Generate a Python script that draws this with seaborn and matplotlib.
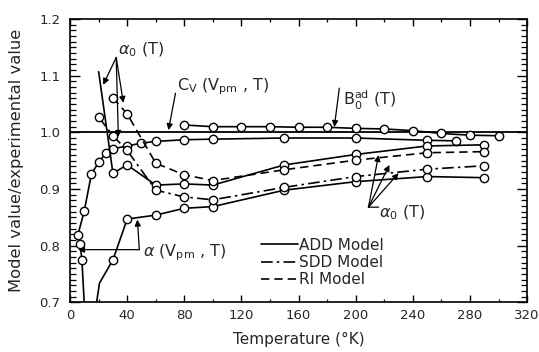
import matplotlib
matplotlib.use('Agg')
import matplotlib.pyplot as plt
from matplotlib.lines import Line2D
from matplotlib.ticker import MultipleLocator
import seaborn as sns
import pandas as pd

# B0ad(T) curve
temp_b0ad = [80, 100, 120, 140, 160, 180, 200, 220, 240, 260, 280, 300]
ratio_b0ad = [1.013, 1.010, 1.010, 1.010, 1.009, 1.009, 1.007, 1.006, 1.003, 0.998, 0.995, 0.994]

# Cv(Vpm, T) curve (plotted in drawing order, low-T tail included)
temp_cv = [10.3, 8.3, 7, 5.5, 10, 15, 20, 25, 30, 40, 50, 60, 80, 100, 150, 200, 250, 270]
ratio_cv = [0.68, 0.775, 0.803, 0.819, 0.862, 0.927, 0.947, 0.963, 0.971, 0.976, 0.981,
            0.984, 0.987, 0.988, 0.990, 0.990, 0.986, 0.985]

# alpha(Vpm, T) curve
temp_alpha = [18, 20.6, 30, 40, 60, 80, 100, 150, 200, 250, 290]
ratio_alpha = [0.69, 0.734, 0.775, 0.847, 0.854, 0.866, 0.869, 0.898, 0.913, 0.922, 0.920]

# alpha0(T) for the three models
temp_add = [20, 30, 40, 60, 80, 100, 150, 200, 250, 290]
ratio_add = [1.107, 0.928, 0.9425, 0.907, 0.909, 0.907, 0.9425, 0.961, 0.976, 0.978]

temp_sdd = [20, 30, 40, 60, 80, 100, 150, 200, 250, 290]
ratio_sdd = [1.027, 0.994, 0.968, 0.898, 0.886, 0.881, 0.903, 0.922, 0.935, 0.941]

temp_ri = [30, 40, 60, 80, 100, 150, 200, 250, 290]
ratio_ri = [1.061, 1.0325, 0.9455, 0.925, 0.915, 0.934, 0.951, 0.964, 0.966]

x_ticks = [0, 40, 80, 120, 160, 200, 240, 280, 320]
y_ticks = [0.7, 0.8, 0.9, 1.0, 1.1, 1.2]

sns.set_style('ticks')
plt.rcParams['font.family'] = ['DejaVu Sans']
plt.rcParams['mathtext.fontset'] = 'dejavusans'

fig = plt.figure(figsize=(5.39, 3.52), dpi=100)
ax = fig.add_axes([0.130, 0.141, 0.848, 0.805])

ax.axhline(1.0, color='k', lw=1.3, zorder=1)

SDD_DASH = (0, (7, 2.5, 1.5, 2.5))
RI_DASH = (0, (5, 3))

curves = [
    (temp_b0ad, ratio_b0ad, '-', list(range(len(temp_b0ad)))),
    (temp_cv, ratio_cv, '-', list(range(1, len(temp_cv)))),
    (temp_alpha, ratio_alpha, '-', list(range(2, len(temp_alpha)))),
    (temp_add, ratio_add, '-', list(range(1, len(temp_add)))),
    (temp_sdd, ratio_sdd, SDD_DASH, list(range(len(temp_sdd)))),
    (temp_ri, ratio_ri, RI_DASH, list(range(len(temp_ri)))),
]

for t, r, ls, mk in curves:
    df = pd.DataFrame({'T': t, 'ratio': r})
    sns.lineplot(data=df, x='T', y='ratio', ax=ax, sort=False, estimator=None,
                 color='k', lw=1.2, linestyle=ls, marker='o', markersize=6,
                 markerfacecolor='white', markeredgecolor='k', markeredgewidth=1.0,
                 markevery=mk, zorder=3)

ax.set_xlim(0, 320)
ax.set_ylim(0.7, 1.2)
ax.set_xticks(x_ticks)
ax.set_yticks(y_ticks)
ax.set_yticklabels([f'{v:.1f}' for v in y_ticks])
ax.xaxis.set_minor_locator(MultipleLocator(20))
ax.yaxis.set_minor_locator(MultipleLocator(0.01))
ax.tick_params(which='both', direction='in', top=True, right=True, labelsize=9.5, color='k')
ax.tick_params(axis='y', which='major', length=7, width=1, pad=7)
ax.tick_params(axis='y', which='minor', length=4, width=0.9)
ax.tick_params(axis='x', which='major', length=5, width=1, pad=5)
ax.tick_params(axis='x', which='minor', length=2.5, width=0.9)
for s in ax.spines.values():
    s.set_linewidth(1.2)
    s.set_color('k')

ax.set_xlabel('Temperature (°K)', fontsize=11)
ax.set_ylabel('Model value/experimental value', fontsize=11.8)
ax.xaxis.set_label_coords(0.5, -0.105)
ax.yaxis.set_label_coords(-0.10, 0.5)

arrow = dict(arrowstyle='-|>', color='k', lw=0.9, mutation_scale=9, shrinkA=0, shrinkB=0)
plain = dict(arrowstyle='-', color='k', lw=0.9, shrinkA=0, shrinkB=0)
afs = 11.5

# alpha0(T), upper left
ax.text(33.8, 1.145, r'$\alpha_0$ (T)', fontsize=afs, ha='left', va='center')
for tip in [(23.2, 1.084), (33.8, 0.992), (37.3, 1.052)]:
    ax.annotate('', xy=tip, xytext=(32.3, 1.132), arrowprops=arrow)

# Cv(Vpm, T)
ax.text(75.2, 1.08, r'C$_\mathrm{V}$ (V$_\mathrm{pm}$ , T)', fontsize=afs, ha='left', va='center')
ax.annotate('', xy=(68.9, 1.004), xytext=(73.8, 1.069), arrowprops=arrow)

# B0ad(T)
ax.text(191, 1.057, r'B$_0^\mathrm{ad}$ (T)', fontsize=afs, ha='left', va='center')
ax.annotate('', xy=(185, 1.0095), xytext=(188.5, 1.078), arrowprops=arrow)

# alpha0(T), lower right
ax.text(216.5, 0.858, r'$\alpha_0$ (T)', fontsize=afs, ha='left', va='center')
ax.annotate('', xy=(216, 0.868), xytext=(208.9, 0.868), arrowprops=plain)
for tip in [(216, 0.960), (223.6, 0.9425), (230, 0.928)]:
    ax.annotate('', xy=tip, xytext=(208.9, 0.868), arrowprops=arrow)

# alpha(Vpm, T)
ax.text(51.3, 0.788, r'$\alpha$ (V$_\mathrm{pm}$ , T)', fontsize=afs, ha='left', va='center')
ax.annotate('', xy=(5.6, 0.793), xytext=(48.5, 0.793), arrowprops=arrow)
ax.annotate('', xy=(47.1, 0.846), xytext=(48.5, 0.793), arrowprops=arrow)

handles = [Line2D([], [], color='k', lw=1.2, linestyle='-'),
           Line2D([], [], color='k', lw=1.2, linestyle=SDD_DASH),
           Line2D([], [], color='k', lw=1.2, linestyle=RI_DASH)]
ax.legend(handles, ['ADD Model', 'SDD Model', 'RI Model'], loc='upper left',
          bbox_to_anchor=(0.418, 0.228), frameon=False, fontsize=11, handlelength=2.4,
          handletextpad=0.1, labelspacing=0.15, borderpad=0, borderaxespad=0)

fig.savefig('out.png', dpi=100)
